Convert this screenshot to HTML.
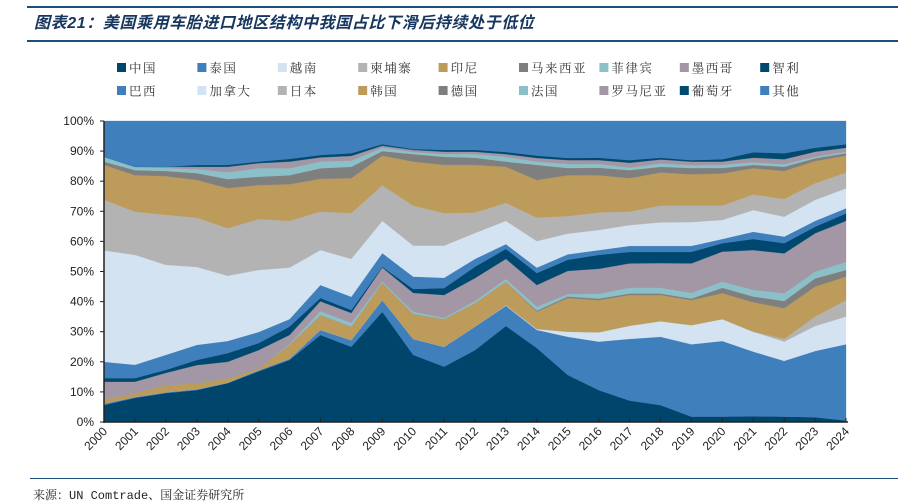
<!DOCTYPE html>
<html><head><meta charset="utf-8">
<style>
body{margin:0;background:#fff;width:898px;height:499px;overflow:hidden;font-family:"Liberation Sans","Noto Sans CJK SC",sans-serif;}
#title{position:absolute;left:34px;top:9px;font-size:16px;font-weight:bold;font-style:italic;color:#17375e;font-family:"Liberation Sans","Noto Sans CJK SC",sans-serif;letter-spacing:0.6px;}
.hl{position:absolute;left:27px;width:871px;height:2px;background:#1f4e79;}
#src{position:absolute;left:33px;top:486px;font-size:12px;color:#222;font-family:"Liberation Mono","Noto Serif CJK SC",monospace;}
</style></head><body>
<div class="hl" style="top:6px"></div>
<div id="title">图表21：美国乘用车胎进口地区结构中我国占比下滑后持续处于低位</div>
<div class="hl" style="top:40px"></div>
<svg id="chart" width="898" height="499" style="position:absolute;left:0;top:0"></svg>
<div class="hl" style="top:478px;left:30px;height:1px"></div>
<div id="src">来源：UN Comtrade、国金证券研究所</div>
<script>
const years=[2000,2001,2002,2003,2004,2005,2006,2007,2008,2009,2010,2011,2012,2013,2014,2015,2016,2017,2018,2019,2020,2021,2022,2023,2024];
const names=["中国","泰国","越南","柬埔寨","印尼","马来西亚","菲律宾","墨西哥","智利","巴西","加拿大","日本","韩国","德国","法国","罗马尼亚","葡萄牙","其他"];
const cn=[5.6,8,9.6,10.6,12.9,16.8,20.6,28.9,25,36.6,22.3,18.4,23.9,31.9,24.6,15.6,10.6,7.1,5.6,1.8,1.8,1.9,1.8,1.6,0.5];
const th=[0.5,0.3,0.3,0.3,0.2,0.4,0.4,1.7,2.2,3.9,5.3,6.6,7.8,6.7,6,12.7,16.1,20.5,22.7,24,25.1,21.5,18.5,22,25.3];
const vn=[0,0,0,0,0,0,0,0,0,0,0,0,0,0.2,0.3,1.7,3.1,4.4,5.2,6.4,7.3,6.6,6.4,8.3,9.2];
const kh=[0,0,0,0,0,0,0,0,0,0,0,0,0,0,0,0,0,0,0,0,0,0,0.9,3.1,5.5];
const id=[1.5,1.3,2.4,2,1.5,0.6,4.6,4.9,4.5,5.7,8.3,9.2,7.8,7.8,5.7,11.2,10.7,10.2,8.7,8.3,8.6,9.8,10.2,10,7.8];
const my=[0,0,0,0,0,0,0,0,0,0,0,0,0,0,0.4,0.5,0.5,0.5,0.5,0.5,1.8,1.9,2.4,2.7,2.2];
const ph=[0,0,0,0,0,0,0.3,1.3,1.2,0.4,0.7,0.4,0.7,0.9,1.3,0.8,1.6,1.9,1.9,1.9,2,2.2,2.6,2.2,2.7];
const mx=[5.8,3.8,4,6,5.4,6.1,3,3.3,3.3,4.7,6.3,7.6,7.6,6.7,7.2,7.7,8.3,8.1,8.2,9.8,10,13.2,13.2,12.8,13.6];
const cl=[1.2,1.2,1,1.7,2.9,2.3,2.8,1.1,1,0.3,1.3,2.3,3.8,3.3,4,3.7,4.6,3.8,3.7,3.8,2.8,3.7,3.4,2.2,2.5];
const br=[5.4,4.4,5,5,4,3.7,2.5,4.3,4.4,4.5,4.1,3.4,2.6,1.6,1.8,1.8,1.6,2,2,2,1.4,2.4,2.2,1.9,1.7];
const ca=[37,36.5,29.9,25.9,21.7,20.6,17.1,11.6,12.6,10.7,10.3,10.7,8.6,7.7,8.8,6.9,6.7,6.9,7.8,7.9,6.3,7.2,6.6,7,6.6];
const jp=[16.8,14.4,16.6,16.4,15.8,16.9,15.5,12.8,15.2,11.8,13.3,10.8,6.8,6,7.8,5.8,5.8,4.5,5.6,5.5,4.8,5.2,5.9,5.5,5.3];
const kr=[11.6,12.1,12.9,12.5,13.3,11.3,12.2,10.9,11.6,9.9,14.6,16,15.8,12,12.5,13.6,12.4,11.1,11,10.4,10.7,8.7,9.3,7.4,5.6];
const de=[1.1,1.7,1.7,2.3,3,2.8,3,3.5,3.8,1.5,2.5,2.7,2.4,1.7,5,2.4,2.5,2.7,1.9,2.1,1.8,1.1,1.4,0.9,0.8];
const fr=[1.6,1.1,1,1.3,2.3,2.8,2.3,2.2,2,1.1,0.7,0.9,1.2,1.6,1.1,1.3,1.2,0.8,1.1,0.9,1,0.9,0.8,0.5,0.5];
const ro=[0,0,0.4,0.8,1.8,1.7,2.2,1.4,1.6,0.7,0.7,0.8,0.8,0.9,1.2,1.3,1.3,1.6,1.3,1.2,1.1,1.5,1.7,1.7,1.3];
const pt=[0,0,0,0.6,0.6,0.5,0.9,0.8,0.9,0.5,0.3,0.6,0.6,0.7,0.8,0.7,0.8,0.9,0.6,0.5,0.8,1.8,2,1.3,1.2];
const yTicks=[0,10,20,30,40,50,60,70,80,90,100];

const colors=["#00466c","#3f7fbc","#d3e3f2","#b3b3b3","#bd9b5b","#7f7f7f","#8bc0c8","#a396a5","#00486f","#3f7fbc","#d3e3f2","#b3b3b3","#bd9b5b","#7f7f7f","#8bc0c8","#a396a5","#004a70","#3f7fbc"];
const known=[cn,th,vn,kh,id,my,ph,mx,cl,br,ca,jp,kr,de,fr,ro,pt];
const other=years.map((y,i)=>Math.max(0,100-known.reduce((s,a)=>s+a[i],0)));
const series=known.concat([other]);

const NS="http://www.w3.org/2000/svg";
const svg=document.getElementById('chart');
const X0=104,X1=846,Y0=422,Y1=121;
const x=i=>X0+(X1-X0)*i/(years.length-1);
const y=v=>Y0-(Y0-Y1)*v/100;
function mk(t,a){const e=document.createElementNS(NS,t);for(const k in a)e.setAttribute(k,a[k]);svg.appendChild(e);return e;}

let base=years.map(()=>0);
series.forEach((s,k)=>{
  const top=base.map((b,i)=>b+s[i]);
  let d="M"+years.map((_,i)=>x(i).toFixed(1)+","+y(top[i]).toFixed(1)).join("L");
  for(let i=years.length-1;i>=0;i--)d+="L"+x(i).toFixed(1)+","+y(base[i]).toFixed(1);
  const p=mk('path',{d:d+"Z",fill:colors[k],stroke:colors[k],'stroke-width':0.3});
  
  
  base=top;
});

const ax=mk('line',{x1:X0,y1:Y1,x2:X0,y2:Y0+1,stroke:'#222','stroke-width':1.5});


const bx=mk('line',{x1:X0,y1:Y0,x2:X1+2,y2:Y0,stroke:'#222','stroke-width':1.5});



yTicks.forEach(v=>{
  const t=mk('line',{x1:X0-4,y1:y(v),x2:X0,y2:y(v),stroke:'#222'});
  
  
  const l=mk('text',{x:X0-10,y:y(v)+4,'text-anchor':'end','font-size':12,fill:'#222','font-family':'Liberation Sans, sans-serif'});
  l.textContent=v+'%';
  
  
});
years.forEach((yr,i)=>{
  const t=mk('line',{x1:x(i),y1:Y0,x2:x(i),y2:Y0-4,stroke:'#222'});
  
  
  const l=mk('text',{x:x(i)+4,y:Y0+10,'text-anchor':'end','font-size':12,fill:'#222','font-family':'Liberation Sans, sans-serif',transform:'rotate(-45 '+(x(i)+4)+' '+(Y0+10)+')'});
  l.textContent=yr;
  
  
});

names.forEach((n,k)=>{
  const col=k%9,row=Math.floor(k/9);
  const lx=117+col*80.4,ly=68+row*23;
  const r=mk('rect',{x:lx,y:ly-5,width:9,height:9,fill:colors[k]});
  
  
  const t=mk('text',{x:lx+12,y:ly+4.5,'font-size':12.5,fill:'#333','font-family':'Liberation Serif, Noto Serif CJK SC, serif','letter-spacing':'1.5'});
  t.textContent=n;
  
  
});
</script>
</body></html>
